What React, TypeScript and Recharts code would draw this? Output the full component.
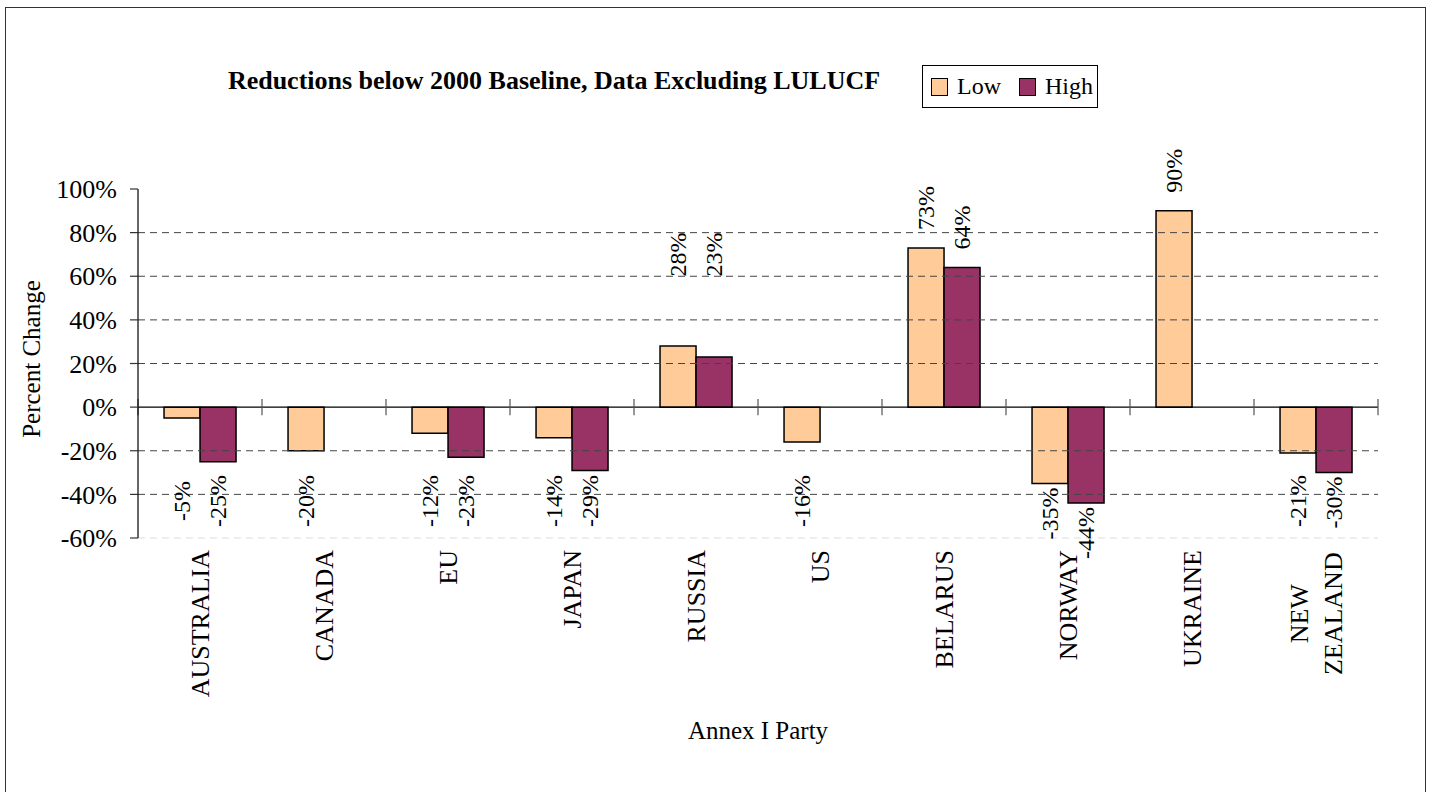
import React from 'react';
import { BarChart, Bar, XAxis, YAxis, ReferenceLine, LabelList, Legend } from 'recharts';

const categories = ['AUSTRALIA', 'CANADA', 'EU', 'JAPAN', 'RUSSIA', 'US', 'BELARUS', 'NORWAY', 'UKRAINE', 'NEW ZEALAND'];
const categoryLabels = ['AUSTRALIA', 'CANADA', 'EU', 'JAPAN', 'RUSSIA', 'US', 'BELARUS', 'NORWAY', 'UKRAINE', 'NEW\nZEALAND'];
const lowValues = [-5, -20, -12, -14, 28, -16, 73, -35, 90, -21];
const highValues: (number | null)[] = [-25, null, -23, -29, 23, null, 64, -44, null, -30];
const yTicks = [-60, -40, -20, 0, 20, 40, 60, 80, 100];
const gridValues = [80, 60, 40, 20, -20, -40];
const bottomGridValue = -60;
const seriesNames = ['Low', 'High'];
const seriesColors = ['#FFCC99', '#993366'];

const data = categories.map((c, i) => ({ name: c, low: lowValues[i], high: highValues[i] }));

const FONT = "'Liberation Serif', 'Times New Roman', serif";

const DataLabel = (props: any) => {
  const { x, y, width, height, value } = props;
  if (value === null || value === undefined) return null;
  const v = Number(value);
  const h = Number(height);
  const yy = Number(y);
  const top = Math.min(yy, yy + h);
  const bottom = Math.max(yy, yy + h);
  const ppu = v !== 0 ? Math.abs(h) / Math.abs(v) : 0;
  let cy: number;
  if (v >= 0) {
    cy = Math.min(top - 40, bottom - 70 * ppu);
  } else {
    cy = Math.max(bottom + 30, top + 43 * ppu);
  }
  const cx = Number(x) + Number(width) / 2;
  return (
    <text
      x={cx}
      y={cy}
      transform={`rotate(-90, ${cx}, ${cy})`}
      textAnchor="middle"
      dominantBaseline="central"
      fontFamily={FONT}
      fontSize={24}
      fill="#000"
    >
      {`${v}%`}
    </text>
  );
};

const XTick = (props: any) => {
  const { x, y, payload } = props;
  const idx = categories.indexOf(payload.value);
  const label = idx >= 0 ? categoryLabels[idx] : String(payload.value);
  const lines = label.split('\n');
  const fs = 26;
  if (lines.length === 1) {
    return (
      <g transform={`translate(${x},${y}) rotate(-90)`}>
        <text x={0} y={0} textAnchor="end" dominantBaseline="central" fontFamily={FONT} fontSize={fs} fill="#000">
          {lines[0]}
        </text>
      </g>
    );
  }
  const maxChars = Math.max(...lines.map((l) => l.length));
  const est = maxChars * fs * 0.7;
  const lh = 34;
  return (
    <g transform={`translate(${x},${y}) rotate(-90)`}>
      {lines.map((l, i) => (
        <text
          key={i}
          x={-est / 2}
          y={(i - (lines.length - 1) / 2) * lh}
          textAnchor="middle"
          dominantBaseline="central"
          fontFamily={FONT}
          fontSize={fs}
          fill="#000"
        >
          {l}
        </text>
      ))}
    </g>
  );
};

const LegendContent = (props: any) => {
  const payload = [...(props.payload || [])].sort(
    (a: any, b: any) => seriesNames.indexOf(a.value) - seriesNames.indexOf(b.value)
  );
  return (
    <div
      style={{
        border: '1.5px solid #000',
        background: '#fff',
        width: 176,
        height: 43,
        boxSizing: 'border-box',
        display: 'flex',
        alignItems: 'center',
        paddingLeft: 8,
        fontFamily: FONT,
        fontSize: 24,
        color: '#000',
      }}
    >
      {payload.map((p: any, i: number) => (
        <div key={i} style={{ display: 'flex', alignItems: 'center', marginRight: i === 0 ? 18 : 0 }}>
          <span
            style={{
              display: 'inline-block',
              width: 15,
              height: 16,
              background: p.color,
              border: '1.5px solid #000',
              marginRight: 9,
            }}
          />
          <span>{p.value}</span>
        </div>
      ))}
    </div>
  );
};

export default function App() {
  const last = categories[categories.length - 1];
  return (
    <div style={{ position: 'absolute', left: 0, top: 0, width: 1432, height: 792, overflow: 'hidden', background: '#fff' }}>
      <div
        style={{
          position: 'absolute',
          left: 5,
          top: 7,
          width: 1421,
          height: 800,
          border: '1.5px solid #333',
          boxSizing: 'border-box',
        }}
      />
      <div style={{ position: 'absolute', left: 0, top: 0 }}>
        <BarChart
          width={1432}
          height={792}
          data={data}
          margin={{ top: 189, right: 54, bottom: 0, left: 0 }}
          barCategoryGap="21%"
          barGap={0}
        >
          {gridValues.map((g) => (
            <ReferenceLine key={'g' + g} y={g} stroke="#444" strokeDasharray="7 5" strokeWidth={1} />
          ))}
          <ReferenceLine y={bottomGridValue} stroke="#ddd" strokeDasharray="7 5" strokeWidth={1} />
          <XAxis
            dataKey="name"
            type="category"
            height={254}
            interval={0}
            axisLine={false}
            tickLine={false}
            tickSize={0}
            tickMargin={12}
            tick={<XTick />}
          />
          <YAxis
            width={138}
            domain={[-60, 100]}
            ticks={yTicks}
            interval={0}
            tickFormatter={(v: number) => `${v}%`}
            tick={{ fontFamily: FONT, fontSize: 26, fill: '#000' }}
            tickSize={8}
            tickMargin={13}
            axisLine={{ stroke: '#000', strokeWidth: 1.2 }}
            tickLine={{ stroke: '#333', strokeWidth: 1.2 }}
          />
          <Legend
            layout="vertical"
            align="center"
            verticalAlign="middle"
            content={<LegendContent />}
            wrapperStyle={{ position: 'absolute', left: 922, top: 65, width: 176, height: 43 }}
          />
          <Bar dataKey="low" name={seriesNames[0]} fill={seriesColors[0]} stroke="#000" strokeWidth={1.5} isAnimationActive={false}>
            <LabelList dataKey="low" content={<DataLabel />} />
          </Bar>
          <Bar dataKey="high" name={seriesNames[1]} fill={seriesColors[1]} stroke="#000" strokeWidth={1.5} isAnimationActive={false}>
            <LabelList dataKey="high" content={<DataLabel />} />
          </Bar>
          <ReferenceLine y={0} stroke="#000" strokeWidth={1.2} />
          {categories.map((c) => (
            <ReferenceLine
              key={'t' + c}
              segment={[{ x: c, y: -3.7 }, { x: c, y: 3.7 }]}
              position="start"
              stroke="#555"
              strokeWidth={1.2}
            />
          ))}
          <ReferenceLine segment={[{ x: last, y: -3.7 }, { x: last, y: 3.7 }]} position="end" stroke="#555" strokeWidth={1.2} />
        </BarChart>
      </div>
      <svg width={1432} height={792} style={{ position: 'absolute', left: 0, top: 0, pointerEvents: 'none' }}>
        <text x={554} y={89} textAnchor="middle" fontFamily={FONT} fontSize={26} fontWeight="bold" fill="#000">
          Reductions below 2000 Baseline, Data Excluding LULUCF
        </text>
        <text
          x={31}
          y={359}
          transform="rotate(-90, 31, 359)"
          textAnchor="middle"
          dominantBaseline="central"
          fontFamily={FONT}
          fontSize={25}
          fill="#000"
        >
          Percent Change
        </text>
        <text x={758} y={730} textAnchor="middle" dominantBaseline="central" fontFamily={FONT} fontSize={25} fill="#000">
          Annex I Party
        </text>
      </svg>
    </div>
  );
}
